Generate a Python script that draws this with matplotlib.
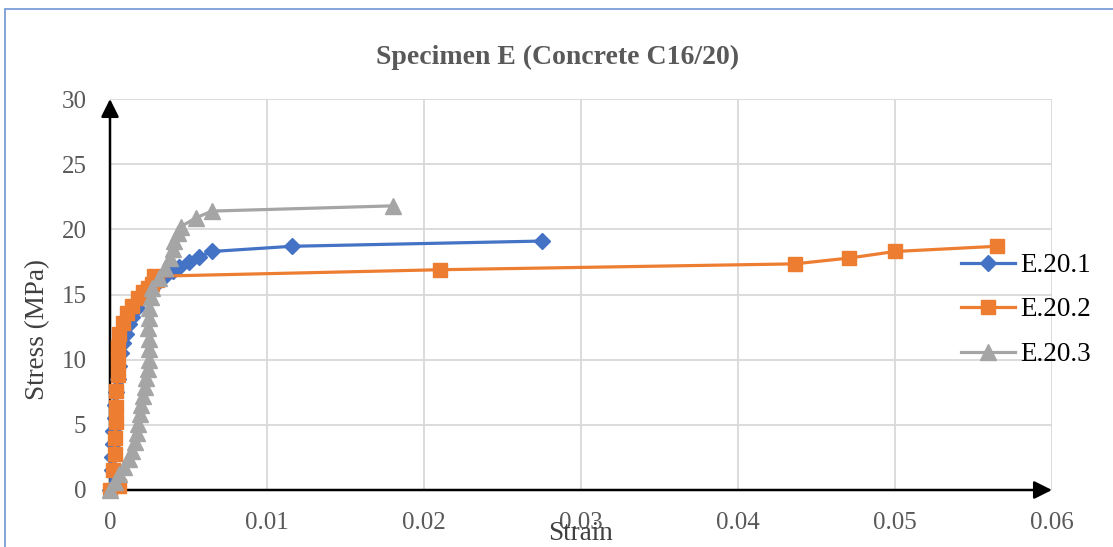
import matplotlib
matplotlib.use("Agg")
import matplotlib.pyplot as plt
from matplotlib.patches import FancyArrowPatch, Rectangle

# Strain / stress readings for the three C16/20 specimens
e201_strain = [0, 0.0001, 0.0001, 0.0002, 0.0002, 0.0003, 0.0003, 0.0004, 0.0005,
               0.0006, 0.0007, 0.0008, 0.0010, 0.0012, 0.0014, 0.0017, 0.0021,
               0.0025, 0.0030, 0.0035, 0.0040, 0.0044, 0.0050, 0.0057, 0.0065,
               0.0116, 0.0275]
e201_stress = [0, 1.5, 2.5, 3.5, 4.5, 5.5, 6.5, 7.5, 8.5, 9.5, 10.5, 11.3, 12.0,
               12.7, 13.3, 14.0, 14.7, 15.3, 15.9, 16.4, 16.8, 17.1, 17.5, 17.9,
               18.3, 18.7, 19.1]

e202_strain = [0, 0.0006, 0.0002, 0.0003, 0.0003, 0.0004, 0.0004, 0.0004, 0.0005,
               0.0005, 0.0005, 0.0006, 0.0008, 0.0011, 0.0014, 0.0018, 0.0021,
               0.0024, 0.0027, 0.0030, 0.0028, 0.0210, 0.0436, 0.0471, 0.0500,
               0.0565]
e202_stress = [0, 0.3, 1.5, 2.8, 4.0, 5.2, 6.4, 7.6, 8.8, 10.0, 11.0, 12.0, 12.8,
               13.6, 14.1, 14.7, 15.2, 15.5, 15.8, 16.1, 16.4, 16.9, 17.35, 17.8,
               18.3, 18.7]

e203_strain = [0, 0.0003, 0.0006, 0.0009, 0.0012, 0.0014, 0.0016, 0.0017, 0.0018,
               0.0019, 0.0020, 0.0021, 0.0022, 0.0023, 0.0024, 0.0025, 0.0025,
               0.0025, 0.0024, 0.0025, 0.0025, 0.0026, 0.0027, 0.0031, 0.0035,
               0.0038, 0.0040, 0.0041, 0.0043, 0.0045, 0.0055, 0.0065, 0.0180]
e203_stress = [0, 0.6, 1.2, 1.8, 2.4, 3.0, 3.7, 4.4, 5.1, 5.8, 6.5, 7.2, 7.9, 8.6,
               9.3, 10.0, 10.8, 11.6, 12.4, 13.2, 14.0, 14.8, 15.5, 16.3, 17.0,
               17.8, 18.5, 19.1, 19.7, 20.2, 20.9, 21.4, 21.8]

x_ticks = [0, 0.01, 0.02, 0.03, 0.04, 0.05, 0.06]
x_tick_labels = ["0", "0.01", "0.02", "0.03", "0.04", "0.05", "0.06"]
y_ticks = [0, 5, 10, 15, 20, 25, 30]

SERIF = ["Liberation Serif", "DejaVu Serif"]
TICK_GRAY = "#595959"
W, H = 1113, 547

fig = plt.figure(figsize=(W / 100, H / 100), dpi=100)
fig.patch.set_facecolor("white")

# chart-area frame
fig.patches.append(Rectangle((5 / W, -0.05), 1.2, 1 - 9 / H + 0.05,
                             transform=fig.transFigure, fill=False,
                             edgecolor="#6F96D4", linewidth=1.2))

ax = fig.add_axes([110 / W, 57 / H, 942 / W, 391 / H])
ax.set_xlim(0, 0.06)
ax.set_ylim(0, 30)
for s in ax.spines.values():
    s.set_visible(False)

ax.set_xticks(x_ticks)
ax.set_xticklabels(x_tick_labels)
ax.set_yticks(y_ticks)
ax.tick_params(length=0, labelsize=18, labelcolor=TICK_GRAY)
ax.tick_params(axis="x", pad=16)
ax.tick_params(axis="y", pad=17)
for lab in ax.get_xticklabels() + ax.get_yticklabels():
    lab.set_fontfamily(SERIF)
ax.grid(True, color="#D9D9D9", linewidth=1.3)
ax.set_axisbelow(True)

# axis arrows
arrow_style = "-|>,head_length=0.6,head_width=0.3"
for start, end in [((0, 0), (0.06, 0)), ((0, 0), (0, 30))]:
    ax.add_patch(FancyArrowPatch(start, end, arrowstyle=arrow_style,
                                 mutation_scale=18, color="black",
                                 linewidth=1.8, shrinkA=0, shrinkB=0,
                                 clip_on=False, zorder=1.5))

ax.plot(e201_strain, e201_stress, color="#4472C4", lw=2.3, marker="D", ms=8,
        label="E.20.1", zorder=3, clip_on=False)
ax.plot(e202_strain, e202_stress, color="#ED7D31", lw=2.3, marker="s", ms=10.5,
        label="E.20.2", zorder=4, clip_on=False)
ax.plot(e203_strain, e203_stress, color="#A5A5A5", lw=2.3, marker="^", ms=11,
        label="E.20.3", zorder=5, clip_on=False)

fig.text(580 / W, 1 - 534 / H, "Strain", ha="center", va="center",
         fontsize=19.5, family=SERIF, color="#404040")
fig.text(38 / W, 1 - 329 / H, "Stress (MPa)", ha="center", va="center",
         rotation=90, fontsize=19.5, family=SERIF, color="#404040")

fig.text(558 / W, 1 - 57 / H, "Specimen E (Concrete C16/20)", ha="center",
         va="center", fontsize=20, fontweight="bold", family=SERIF, color=TICK_GRAY)

leg = fig.legend(loc="upper left", bbox_to_anchor=(961 / W, 1 - 253 / H),
                 frameon=False, prop={"family": SERIF, "size": 19.5},
                 handlelength=2.0, handletextpad=0.2, labelspacing=0.72,
                 borderaxespad=0, borderpad=0)

fig.savefig("out.png", dpi=100, facecolor="white")
